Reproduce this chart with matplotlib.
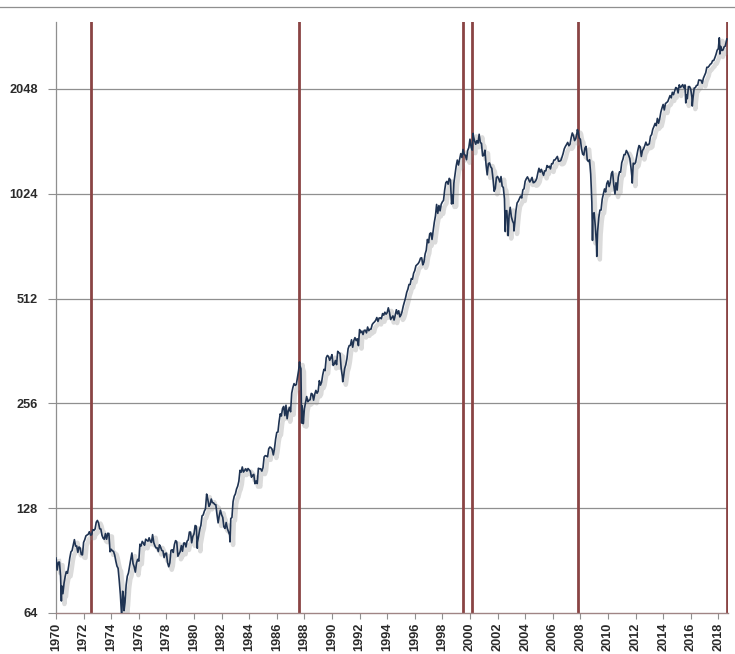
import numpy as np
import matplotlib.pyplot as plt
import matplotlib.patheffects as pe
from matplotlib.lines import Line2D
from matplotlib.ticker import FixedLocator, NullLocator

# S&P 500 month-end closes, Jan 1970 .. Jul 2018 (one row per year)
start_year = 1970
start_close = 92.06
monthly_close = [
    85.02, 89.50, 89.63, 81.52, 76.55, 72.72, 78.05, 81.52, 84.21, 83.25, 87.20, 92.15,
    95.88, 96.75, 100.31, 103.95, 99.63, 99.70, 95.58, 99.03, 98.34, 94.23, 93.99, 102.09,
    103.94, 106.57, 107.20, 107.67, 109.53, 107.14, 107.39, 111.09, 110.55, 111.58, 116.67, 118.05,
    116.03, 111.68, 111.52, 106.97, 104.95, 104.26, 108.22, 104.25, 108.43, 108.29, 95.96, 97.55,
    96.57, 96.22, 93.98, 90.31, 87.28, 86.00, 79.31, 72.15, 63.54, 73.90, 69.97, 68.56,
    76.98, 81.59, 83.36, 87.30, 91.15, 95.19, 88.75, 86.88, 83.87, 89.04, 91.24, 90.19,
    100.86, 99.71, 102.77, 101.64, 100.18, 104.28, 103.44, 102.91, 105.24, 102.90, 102.10, 107.46,
    102.03, 99.82, 98.42, 98.44, 96.12, 100.48, 98.85, 96.77, 96.53, 92.34, 94.83, 95.10,
    89.25, 87.04, 89.21, 96.83, 97.24, 95.53, 100.68, 103.29, 102.54, 93.15, 94.70, 96.11,
    99.93, 96.28, 101.59, 101.76, 99.08, 102.91, 103.81, 109.32, 109.32, 101.82, 106.16, 107.94,
    114.16, 113.66, 102.09, 106.29, 111.24, 114.24, 121.67, 122.38, 125.46, 127.47, 140.52, 135.76,
    129.55, 131.27, 136.00, 132.81, 132.59, 131.21, 130.92, 122.79, 116.18, 121.89, 126.35, 122.55,
    120.40, 113.11, 111.96, 116.44, 111.88, 109.61, 107.09, 119.51, 120.42, 133.71, 138.54, 140.64,
    145.30, 148.06, 152.96, 164.42, 162.39, 168.11, 162.56, 164.40, 166.07, 163.55, 166.40, 164.93,
    163.41, 157.06, 159.18, 160.05, 150.55, 153.18, 150.66, 166.68, 166.10, 166.09, 163.58, 167.24,
    179.63, 181.18, 180.66, 179.83, 189.55, 191.85, 190.92, 188.63, 182.08, 189.82, 202.17, 211.28,
    211.78, 226.92, 238.90, 235.52, 247.35, 250.84, 236.12, 252.93, 231.32, 243.98, 249.22, 242.17,
    274.08, 284.20, 291.70, 288.36, 290.10, 304.00, 318.66, 329.80, 321.83, 251.79, 230.30, 247.08,
    257.07, 267.82, 258.89, 261.33, 262.16, 273.50, 272.02, 261.52, 271.91, 278.97, 273.70, 277.72,
    297.47, 288.86, 294.87, 309.64, 320.52, 317.98, 346.08, 351.45, 349.15, 340.36, 345.99, 353.40,
    329.08, 331.89, 339.94, 330.80, 361.23, 358.02, 356.15, 322.56, 306.05, 304.00, 322.22, 330.22,
    343.93, 367.07, 375.22, 375.34, 389.83, 371.16, 387.81, 395.43, 387.86, 392.45, 375.22, 417.09,
    408.79, 412.70, 403.69, 414.95, 415.35, 408.14, 424.21, 414.03, 417.80, 418.68, 431.35, 435.71,
    438.78, 443.38, 451.67, 440.19, 450.19, 450.53, 448.13, 463.56, 458.93, 467.83, 461.79, 466.45,
    481.61, 467.14, 445.77, 450.91, 456.50, 444.27, 458.26, 475.49, 462.69, 472.35, 453.69, 459.27,
    470.42, 487.39, 500.71, 514.71, 533.40, 544.75, 562.06, 561.88, 584.41, 581.50, 605.37, 615.93,
    636.02, 640.43, 645.50, 654.17, 669.12, 670.63, 639.95, 651.99, 687.33, 705.27, 757.02, 740.74,
    786.16, 790.82, 757.12, 801.34, 848.28, 885.14, 954.29, 899.47, 947.28, 914.62, 955.40, 970.43,
    980.28, 1049.34, 1101.75, 1111.75, 1090.82, 1133.84, 1120.67, 957.28, 1017.01, 1098.67, 1163.63, 1229.23,
    1279.64, 1238.33, 1286.37, 1335.18, 1301.84, 1372.71, 1328.72, 1320.41, 1282.71, 1362.93, 1388.91, 1469.25,
    1394.46, 1366.42, 1498.58, 1452.43, 1420.60, 1454.60, 1430.83, 1517.68, 1436.51, 1429.40, 1314.95, 1320.28,
    1366.01, 1239.94, 1160.33, 1249.46, 1255.82, 1224.38, 1211.23, 1133.58, 1040.94, 1059.78, 1139.45, 1148.08,
    1130.20, 1106.73, 1147.39, 1076.92, 1067.14, 989.82, 911.62, 916.07, 815.28, 885.76, 936.31, 879.82,
    855.70, 841.15, 848.18, 916.92, 963.59, 974.50, 990.31, 1008.01, 995.97, 1050.71, 1058.20, 1111.92,
    1131.13, 1144.94, 1126.21, 1107.30, 1120.68, 1140.84, 1101.72, 1104.24, 1114.58, 1130.20, 1173.82, 1211.92,
    1181.27, 1203.60, 1180.59, 1156.85, 1191.50, 1191.33, 1234.18, 1220.33, 1228.81, 1207.01, 1249.48, 1248.29,
    1280.08, 1280.66, 1294.87, 1310.61, 1270.09, 1270.20, 1276.66, 1303.82, 1335.85, 1377.94, 1400.63, 1418.30,
    1438.24, 1406.82, 1420.86, 1482.37, 1530.62, 1503.35, 1455.27, 1473.99, 1526.75, 1549.38, 1481.14, 1468.36,
    1378.55, 1330.63, 1322.70, 1385.59, 1400.38, 1280.00, 1267.38, 1282.83, 1166.36, 968.75, 896.24, 903.25,
    825.88, 735.09, 797.87, 872.81, 919.14, 919.32, 987.48, 1020.62, 1057.08, 1036.19, 1095.63, 1115.10,
    1073.87, 1104.49, 1169.43, 1186.69, 1089.41, 1030.71, 1101.60, 1049.33, 1141.20, 1183.26, 1180.55, 1257.64,
    1286.12, 1327.22, 1325.83, 1363.61, 1345.20, 1320.64, 1292.28, 1218.89, 1131.42, 1253.30, 1246.96, 1257.60,
    1312.41, 1365.68, 1408.47, 1397.91, 1310.33, 1362.16, 1379.32, 1406.58, 1440.67, 1412.16, 1416.18, 1426.19,
    1498.11, 1514.68, 1569.19, 1597.57, 1630.74, 1606.28, 1685.73, 1632.97, 1681.55, 1756.54, 1805.81, 1848.36,
    1782.59, 1859.45, 1872.34, 1883.95, 1923.57, 1960.23, 1930.67, 2003.37, 1972.29, 2018.05, 2067.56, 2058.90,
    1994.99, 2104.50, 2067.89, 2085.51, 2107.39, 2063.11, 2103.84, 1972.18, 1920.03, 2079.36, 2080.41, 2043.94,
    1940.24, 1932.23, 2059.74, 2065.30, 2096.95, 2098.86, 2173.60, 2170.95, 2168.27, 2126.15, 2198.81, 2238.83,
    2278.87, 2363.64, 2362.72, 2384.20, 2411.80, 2423.41, 2470.30, 2471.65, 2519.36, 2575.26, 2647.58, 2673.61,
    2823.81, 2713.83, 2640.87, 2648.05, 2705.27, 2718.37, 2816.29,
]

# intra-month highs and lows (decimal year, level)
extreme_t = [1970.39, 1974.76, 1974.93, 1978.17, 1980.24, 1982.61, 1987.65, 1987.80,
             1987.92, 1990.78, 1998.77, 2000.23, 2002.56, 2002.77, 2003.19, 2007.78,
             2008.88, 2009.19, 2010.51, 2011.76, 2015.64, 2016.11, 2018.07, 2018.11, 2018.62]
extreme_v = [69.29, 62.28, 65.01, 86.90, 98.22, 102.42, 336.77, 224.84,
             223.92, 295.46, 959.44, 1527.46, 797.70, 776.76, 800.73, 1565.15,
             752.44, 676.53, 1022.58, 1099.23, 1867.61, 1829.08, 2872.87, 2581.00, 2850.00]

signal_years = [1972.54, 1987.62, 1999.50, 2000.18, 2007.80, 2018.62]
y_ticks = [64, 128, 256, 512, 1024, 2048]
x_ticks = list(range(1970, 2019, 2))

month_t = start_year + (np.arange(len(monthly_close)) + 1) / 12.0
t = np.concatenate([[start_year], month_t, extreme_t])
v = np.concatenate([[start_close], monthly_close, extreme_v])
order = np.argsort(t)
t, v = t[order], v[order]

plt.rcParams['font.family'] = ['Liberation Sans', 'DejaVu Sans']

fig = plt.figure(figsize=(7.35, 6.54), dpi=100)
ax = fig.add_axes([56 / 735, 41 / 654, 672 / 735, 591 / 654])

ax.set_yscale('log', base=2)
ax.set_ylim(64, 3189)
ax.set_xlim(1970, 2018.7)

for y in y_ticks[1:]:
    ax.axhline(y, color='#8f8f8f', lw=0.9, zorder=1)

for s in signal_years:
    ax.axvline(s, color='#8a4444', lw=2.0, zorder=2)

ax.plot(t, v, color='#1f3352', lw=1.2, zorder=3,
        path_effects=[pe.SimpleLineShadow(offset=(2.2, -2.2), shadow_color='#8a8a8a',
                                          alpha=0.3, linewidth=3.2),
                      pe.Normal()])

ax.yaxis.set_major_locator(FixedLocator(y_ticks))
ax.yaxis.set_minor_locator(NullLocator())
ax.set_yticklabels([str(y) for y in y_ticks])
ax.set_xticks(x_ticks)
ax.set_xticklabels([str(x) for x in x_ticks], rotation=90)

ax.tick_params(axis='y', length=6, width=0.8, color='#8f8f8f', pad=7,
               labelsize=9.2, labelcolor='#2a2a2a')
ax.tick_params(axis='x', length=4, width=0.8, color='#8f8f8f', pad=3,
               labelsize=9.2, labelcolor='#2a2a2a')
for lbl in ax.get_xticklabels() + ax.get_yticklabels():
    lbl.set_fontweight('bold')

for side in ['top', 'right']:
    ax.spines[side].set_visible(False)
ax.spines['left'].set_color('#8f8f8f')
ax.spines['bottom'].set_color('#a08585')
ax.spines['left'].set_linewidth(0.9)
ax.spines['bottom'].set_linewidth(1.0)

# thin rule across the top of the figure
fig.add_artist(Line2D([0, 1], [1 - 7 / 654, 1 - 7 / 654], transform=fig.transFigure,
                      color='#8f8f8f', lw=0.9))

plt.savefig('out.png', dpi=100)
